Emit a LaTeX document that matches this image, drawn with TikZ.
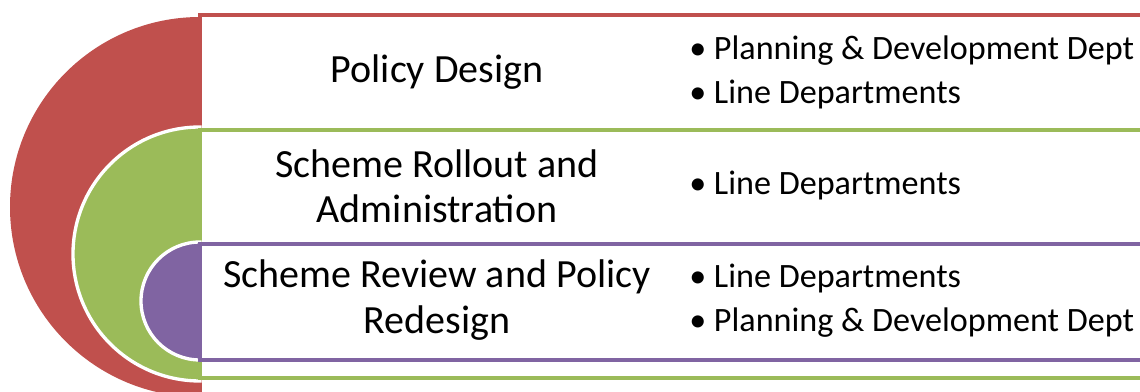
\documentclass[tikz,border=0pt]{standalone}
\usepackage{fontspec}
\setmainfont{Carlito}
\usepackage{tikz}
\definecolor{tgtred}{HTML}{C0504D}
\definecolor{tgtgreen}{HTML}{9BBB59}
\definecolor{tgtpurple}{HTML}{8064A2}

\begin{document}
\begin{tikzpicture}[x=0.75pt, y=0.75pt]
    \tikzstyle{every node} = [inner sep=0pt, text=black]
    \tikzstyle{stage} = [align=center, font=\fontsize{30}{34}\selectfont]
    \tikzstyle{who} = [anchor=west, font=\fontsize{25.6}{30}\selectfont]
    \tikzstyle{band} = [line width=3pt, fill=white]
    \tikzstyle{disc} = [draw=white, line width=2.5pt]

    \useasboundingbox (0,0) rectangle (1140,392);
    \begin{scope}
    \clip (0,0) rectangle (1140,392);
    % outer ring
    \fill[tgtred] (200,375) arc[start angle=90, end angle=270, radius=190] -- cycle;
    \draw[band, draw=tgtred] (200,377) rectangle (1160,-20);
    % middle ring
    \filldraw[disc, fill=tgtgreen] (200,265) arc[start angle=90, end angle=270, radius=127] -- cycle;
    \draw[band, draw=tgtgreen] (200,262) rectangle (1160,14);
    % inner ring
    \filldraw[disc, fill=tgtpurple] (200,150) arc[start angle=90, end angle=270, radius=59] -- cycle;
    \draw[band, draw=tgtpurple] (200,148) rectangle (1160,32);
    \end{scope}

    \node (design) [stage] at (437,320) {Policy Design};
    \node (rollout) [stage] at (437,206) {Scheme Rollout and\\Administration};
    \node (review) [stage] at (437,92) {Scheme Review and Policy\\Redesign};

    \node (design1) [who] at (689,341) {\textbullet\ Planning \& Development Dept};
    \node (design2) [who] at (689,297) {\textbullet\ Line Departments};
    \node (rollout1) [who] at (689,206) {\textbullet\ Line Departments};
    \node (review1) [who] at (689,113) {\textbullet\ Line Departments};
    \node (review2) [who] at (689,69) {\textbullet\ Planning \& Development Dept};
\end{tikzpicture}
\end{document}
